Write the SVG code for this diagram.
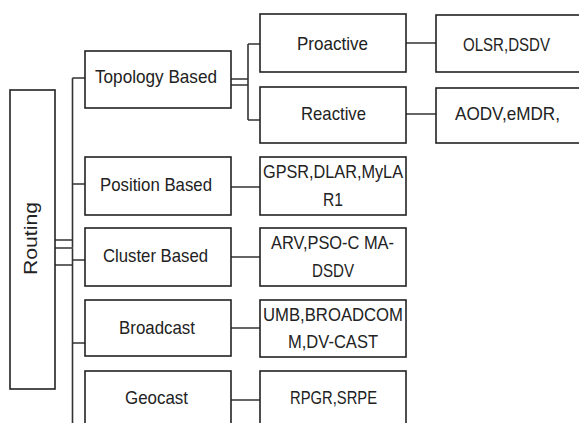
<svg xmlns="http://www.w3.org/2000/svg" width="579" height="423" viewBox="0 0 579 423">
<style>
.box{fill:#fff;stroke:#222;stroke-width:1.6}
.c{fill:none;stroke:#333;stroke-width:1.6}
.g{fill:none;stroke:#666;stroke-width:2}
text{font-family:"Liberation Sans",Arial,sans-serif;font-size:19px;fill:#222;text-anchor:middle}
</style>
<rect width="579" height="423" fill="#fff"/>
<g id="connectors">
<path class="c" d="M72.5,78 V430 M72.5,78 H85 M72.5,184 H85 M72.5,260 H85 M72.5,343 H85 M72.5,426 H85"/>
<path class="c" d="M55,240 H72.5 M55,265 H72.5"/>
<path class="g" d="M55,248 H72.5"/>
<path class="c" d="M231,79 H248 M231,85 H248 M248,44 V120 M248,44 H260 M248,120 H260"/>
<path class="g" d="M406,43 H436 M406,114 H436 M231,187 H260 M231,257 H260 M231,328 H260 M231,400 H260"/>
</g>
<g id="routing"><rect class="box" x="10" y="90" width="45" height="299"/><text transform="translate(37,238.5) rotate(-90)" font-size="17" textLength="73" lengthAdjust="spacingAndGlyphs">Routing</text></g>
<g id="topology"><rect class="box" x="85" y="51" width="146" height="57"/><text x="156" y="83" textLength="122" lengthAdjust="spacingAndGlyphs">Topology Based</text></g>
<g id="position"><rect class="box" x="85" y="157" width="146" height="58"/><text x="156" y="191" textLength="112" lengthAdjust="spacingAndGlyphs">Position Based</text></g>
<g id="cluster"><rect class="box" x="85" y="228" width="146" height="58"/><text x="155.5" y="262" textLength="105" lengthAdjust="spacingAndGlyphs">Cluster Based</text></g>
<g id="broadcast"><rect class="box" x="85" y="300" width="146" height="56"/><text x="157" y="334" textLength="76" lengthAdjust="spacingAndGlyphs">Broadcast</text></g>
<g id="geocast"><rect class="box" x="85" y="371" width="146" height="60"/><text x="156.5" y="404" textLength="63" lengthAdjust="spacingAndGlyphs">Geocast</text></g>
<g id="proactive"><rect class="box" x="260" y="14" width="146" height="58"/><text x="332.5" y="50" textLength="71" lengthAdjust="spacingAndGlyphs">Proactive</text></g>
<g id="reactive"><rect class="box" x="260" y="87" width="146" height="56"/><text x="333.5" y="120" textLength="65" lengthAdjust="spacingAndGlyphs">Reactive</text></g>
<g id="olsr"><rect class="box" x="436" y="15" width="150" height="57"/><text x="506.5" y="50.5" textLength="87" lengthAdjust="spacingAndGlyphs">OLSR,DSDV</text></g>
<g id="aodv"><rect class="box" x="436" y="88" width="150" height="55"/><text x="507.5" y="119.5" textLength="105" lengthAdjust="spacingAndGlyphs">AODV,eMDR,</text></g>
<g id="gpsr"><rect class="box" x="260" y="157" width="146" height="58"/><text x="333" y="177.7" textLength="140" lengthAdjust="spacingAndGlyphs">GPSR,DLAR,MyLA</text><text x="333" y="206" textLength="20" lengthAdjust="spacingAndGlyphs">R1</text></g>
<g id="arv"><rect class="box" x="260" y="228" width="146" height="58"/><text x="332.5" y="249" textLength="123" lengthAdjust="spacingAndGlyphs">ARV,PSO-C MA-</text><text x="333" y="277" textLength="42" lengthAdjust="spacingAndGlyphs">DSDV</text></g>
<g id="umb"><rect class="box" x="260" y="300" width="146" height="57"/><text x="333" y="320.7" textLength="140" lengthAdjust="spacingAndGlyphs">UMB,BROADCOM</text><text x="333" y="348" textLength="90" lengthAdjust="spacingAndGlyphs">M,DV-CAST</text></g>
<g id="rpgr"><rect class="box" x="260" y="371" width="146" height="60"/><text x="333.5" y="404" textLength="87" lengthAdjust="spacingAndGlyphs">RPGR,SRPE</text></g>
</svg>
